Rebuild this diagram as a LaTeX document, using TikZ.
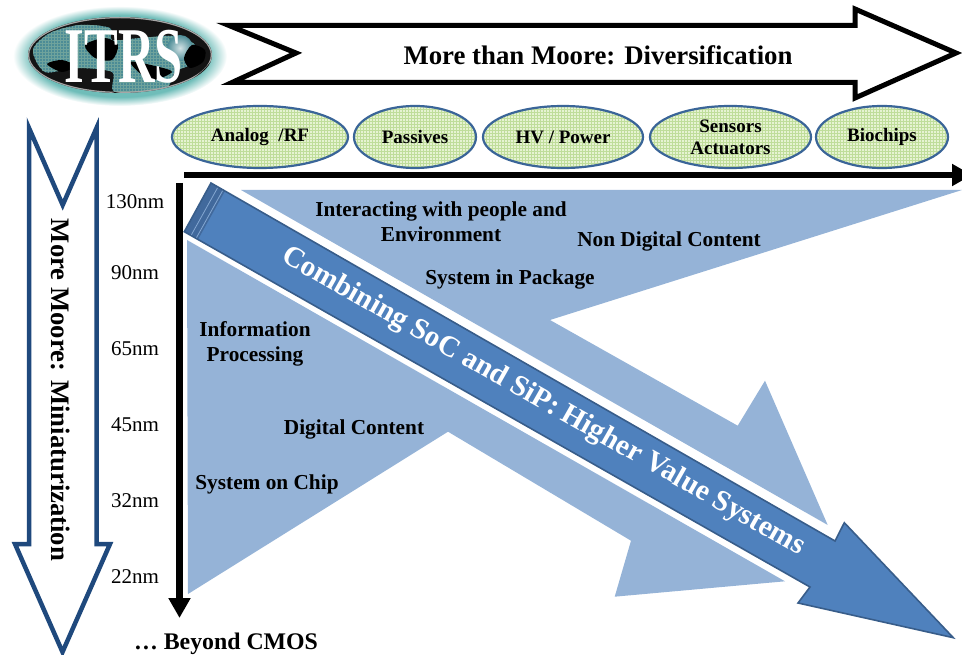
\documentclass[tikz,border=0pt]{standalone}
\usepackage{fontspec}
\setmainfont{Liberation Serif}
\usepackage{tikz}
\usetikzlibrary{arrows.meta, patterns, shapes.geometric, calc}
\definecolor{lightband}{HTML}{95B3D7}
\definecolor{midband}{HTML}{4F81BD}
\definecolor{darkband}{HTML}{385D8A}
\definecolor{tailband}{HTML}{41699C}
\definecolor{navyline}{HTML}{1F497D}
\definecolor{ovalfill}{HTML}{E6F3D2}
\definecolor{ovalgrid}{HTML}{BFDD9A}
\definecolor{ovalline}{HTML}{3A6598}
\definecolor{glowteal}{HTML}{6FBDB9}
\definecolor{mapteal}{HTML}{4C8C96}
\definecolor{mapgrid}{HTML}{6FA39C}
\pgfdeclareradialshading{logoglow}{\pgfpointorigin}{color(0bp)=(glowteal); color(20.5bp)=(glowteal); color(22.5bp)=(glowteal!55!white); color(25bp)=(white); color(50bp)=(white)}
\tikzset{
  oval/.style={shape=ellipse, draw=ovalline, line width=2.2pt, preaction={fill=ovalfill}, pattern=grid, pattern color=ovalgrid, minimum height=62pt, inner sep=0pt, align=center, font=\fontsize{19}{22}\selectfont\bfseries},
  nmlabel/.style={inner sep=0pt, font=\fontsize{21}{21}\selectfont},
  bandlabel/.style={inner sep=0pt, align=center, font=\fontsize{21.3}{25}\selectfont\bfseries},
  axisline/.style={line width=6.5pt, -{Triangle[length=20pt,width=21pt]}},
}
\begin{document}
\begin{tikzpicture}[x=1pt,y=-1pt]
\clip (0,0) rectangle (962,655);
% Logo
\shade[shading=logoglow] (120,56) ellipse (107 and 50);
\begin{scope}
\clip (120,55) ellipse (92 and 38);
\fill[black!92] (20,10) rectangle (220,100);
\fill[preaction={fill=mapteal}, pattern=grid, pattern color=mapgrid] plot[smooth cycle] coordinates {(33,50) (50,33) (80,25) (110,28) (112,40) (140,38) (175,36) (195,45) (195,62) (175,72) (165,88) (115,92) (112,72) (75,68) (45,72)};
\fill[black] plot[smooth cycle] coordinates {(47,64) (62,60) (75,66) (62,72)};
\fill[black] plot[smooth cycle] coordinates {(85,45) (105,38) (118,45) (112,60) (95,58)};
\fill[black] plot[smooth cycle] coordinates {(130,62) (155,66) (172,72) (150,80)};
\shade[inner color=white!75!mapteal, outer color=mapteal] (180,48) circle (13);
\fill[black] plot[smooth cycle] coordinates {(192,45) (205,50) (203,62) (190,68) (184,58)};
\draw[black!35, line width=1.5pt] (120,55) ellipse (91.5 and 37.5);
\fill[black!92] (28,72) .. controls (60,100) and (90,100) .. (115,92) .. controls (150,100) and (190,90) .. (212,60) -- (212,100) -- (28,100) -- cycle;
\end{scope}
\draw (124,57) node[white, inner sep=0pt, xscale=.64, font=\fontsize{79}{79}\selectfont\bfseries](logo_itrs){ITRS};
% Arrow on top
\draw[line width=5pt, fill=white, miter limit=10] (229,25.5) -- (855,25.5) -- (855,9) -- (956,53) -- (855,98) -- (855,82.5) -- (232,82.5) -- (296,53) -- cycle;
\draw (598,55) node[inner sep=0pt, font=\fontsize{26.8}{27}\selectfont\bfseries](top_label){More than Moore: Diversification};
% Arrow on the left
\draw[navyline, line width=4.5pt, fill=white, miter limit=10] (29,128) -- (62.7,205) -- (96.5,128) -- (96.5,544) -- (110,544) -- (62.5,652) -- (15,544) -- (29,544) -- cycle;
\draw (61,390) node[rotate=-90, inner sep=0pt, font=\fontsize{26.7}{27}\selectfont\bfseries](left_label){More Moore: Miniaturization};
% Ovals
\draw (260,137) node[oval, minimum width=176pt](ov_analog){Analog \ /RF};
\draw (415,137) node[oval, minimum width=122pt](ov_passives){Passives};
\draw (563,137) node[oval, minimum width=160pt](ov_hv){HV / Power};
\draw (730.5,137) node[oval, minimum width=161pt](ov_sensors){Sensors\\Actuators};
\draw (882,137) node[oval, minimum width=132pt](ov_biochips){Biochips};
% Light arrows
\fill[lightband] (241,190) -- (962,190) -- (550,320) -- (737.7,425.7) -- (765,380.7) -- (827.7,525) -- cycle;
\fill[lightband] (187,240) -- (785,581.3) -- (614.7,596.7) -- (631,540.7) -- (448,431.7) -- (188,594) -- cycle;
% Middle arrow
\fill[midband] (211,183) -- (835,541) -- (844.3,522.7) -- (953.3,637.7) -- (798,603) -- (810,587) -- (184.3,231.7) -- cycle;
\fill[tailband] (211,183) -- (225,191) -- (198,239.5) -- (184.3,231.7) -- cycle;
\draw[midband!70!white, line width=.8pt] (218,187) -- (191,235.5);
\draw[midband!70!white, line width=.8pt] (223,190) -- (196,238.5);
\draw[darkband, line width=1.6pt, line join=miter] (211,183) -- (835,541) -- (844.3,522.7) -- (953.3,637.7) -- (798,603) -- (810,587) -- (184.3,231.7) -- cycle;
\draw (543,402) node[white, rotate=-29.6, inner sep=0pt, font=\fontsize{29.4}{29.4}\selectfont\bfseries](mid_label){Combining SoC and SiP: Higher Value Systems};
% Axes
\coordinate (ax_h0) at (184,175);
\coordinate (ax_h1) at (972,175);
\coordinate (ax_v0) at (179.5,183);
\coordinate (ax_v1) at (179.5,618);
\draw[axisline] (ax_h0) -- (ax_h1);
\draw[axisline] (ax_v0) -- (ax_v1);
% Sizes
\draw (135,202) node[nmlabel](nm_130){130nm};
\draw (135,273) node[nmlabel](nm_90){90nm};
\draw (135,349) node[nmlabel](nm_65){65nm};
\draw (135,425) node[nmlabel](nm_45){45nm};
\draw (135,501) node[nmlabel](nm_32){32nm};
\draw (135,577) node[nmlabel](nm_22){22nm};
% Labels on the bands
\draw (441,222) node[bandlabel](lb_people){Interacting with people and\\Environment};
\draw (669,241) node[bandlabel](lb_nondigital){Non Digital Content};
\draw (510,279) node[bandlabel](lb_sip){System in Package};
\draw (255,344) node[bandlabel](lb_info){Information\\Processing};
\draw (354,429) node[bandlabel](lb_digital){Digital Content};
\draw (267,484) node[bandlabel](lb_soc){System on Chip};
\draw (226,644) node[inner sep=0pt, font=\fontsize{23.8}{24}\selectfont\bfseries](lb_cmos){\dots\ Beyond CMOS};
\end{tikzpicture}
\end{document}
